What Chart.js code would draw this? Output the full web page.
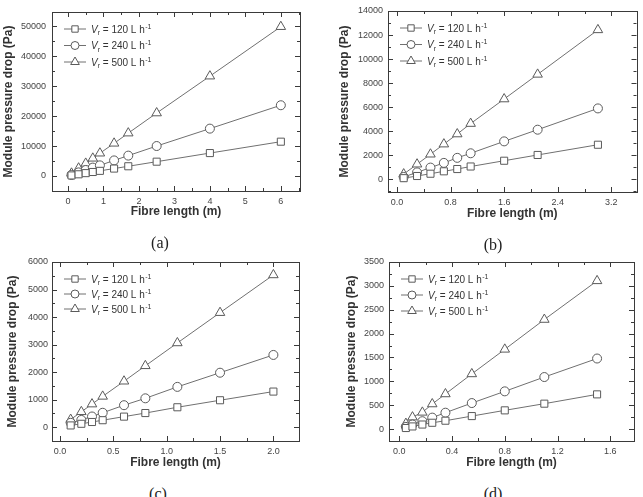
<!DOCTYPE html>
<html>
<head>
<meta charset="utf-8">
<script src="https://cdn.jsdelivr.net/npm/chart.js@4.4.1/dist/chart.umd.min.js"></script>
<style>
  html, body { margin: 0; padding: 0; background: #fff; }
  body { width: 643px; height: 497px; position: relative; overflow: hidden; }
  .panel { position: absolute; }
  .cap {
    position: absolute; width: 40px; margin-left: -20px; text-align: center;
    font: 16px "Liberation Serif", "Times New Roman", serif; color: #222; line-height: 16px;
  }
</style>
</head>
<body>
<div class="panel" style="left:0;top:0;width:320px;height:228px"><canvas id="cA" width="320" height="228"></canvas></div>
<div class="panel" style="left:320px;top:0;width:323px;height:228px"><canvas id="cB" width="323" height="228"></canvas></div>
<div class="panel" style="left:0;top:248px;width:320px;height:228px"><canvas id="cC" width="320" height="228"></canvas></div>
<div class="panel" style="left:320px;top:248px;width:323px;height:228px"><canvas id="cD" width="323" height="228"></canvas></div>
<div class="cap" style="left:160px;top:235px">(a)</div>
<div class="cap" style="left:493px;top:237px">(b)</div>
<div class="cap" style="left:158px;top:486px">(c)</div>
<div class="cap" style="left:493px;top:486px">(d)</div>

<script>
// ===============================
// DATOS
// ===============================
const caudales = ["120", "240", "500"];   // V_r en L h-1

// (a)
const xA = [0.1, 0.3, 0.5, 0.7, 0.9, 1.3, 1.7, 2.5, 4, 6];
const q120A = [190, 570, 960, 1340, 1720, 2480, 3250, 4780, 7650, 11450];
const q240A = [350, 1200, 2000, 2800, 3550, 5200, 6800, 10000, 15800, 23600];
const q500A = [900, 2600, 4200, 5900, 7600, 10900, 14300, 21000, 33300, 49800];
const xTicksA = [0, 1, 2, 3, 4, 5, 6];
const yTicksA = [0, 10000, 20000, 30000, 40000, 50000];

// (b)
const xB = [0.1, 0.3, 0.5, 0.7, 0.9, 1.1, 1.6, 2.1, 3.0];
const q120B = [100, 280, 470, 670, 860, 1070, 1550, 2030, 2880];
const q240B = [200, 580, 980, 1370, 1790, 2170, 3160, 4130, 5900];
const q500B = [440, 1260, 2090, 2930, 3770, 4640, 6680, 8730, 12430];
const xTicksB = [0.0, 0.8, 1.6, 2.4, 3.2];
const yTicksB = [0, 2000, 4000, 6000, 8000, 10000, 12000, 14000];

// (c)
const xC = [0.1, 0.2, 0.3, 0.4, 0.6, 0.8, 1.1, 1.5, 2.0];
const q120C = [65, 125, 190, 255, 385, 515, 725, 980, 1295];
const q240C = [160, 265, 390, 525, 800, 1050, 1465, 1980, 2625];
const q500C = [280, 560, 840, 1120, 1670, 2230, 3060, 4160, 5530];
const xTicksC = [0.0, 0.5, 1.0, 1.5, 2.0];
const yTicksC = [0, 1000, 2000, 3000, 4000, 5000, 6000];

// (d)
const xD = [0.05, 0.1, 0.175, 0.25, 0.35, 0.55, 0.8, 1.1, 1.5];
const q120D = [22, 55, 95, 132, 175, 272, 392, 532, 727];
const q240D = [45, 95, 165, 240, 343, 545, 790, 1090, 1478];
const q500D = [115, 250, 350, 525, 735, 1155, 1670, 2295, 3105];
const xTicksD = [0.0, 0.4, 0.8, 1.2, 1.6];
const yTicksD = [0, 500, 1000, 1500, 2000, 2500, 3000, 3500];


// ===============================
// ESTILO
// ===============================
const FONT = "'Liberation Sans', Arial, sans-serif";
const estilos = [
  { pointStyle: "rect", radius: 5 },
  { pointStyle: "circle", radius: 4.5 },
  { pointStyle: "triangle", radius: 5.5 }
];

// marco + ticks hacia dentro (estilo Origin)
const marcoTicks = {
  id: "marcoTicks",
  afterDraw(chart) {
    const { ctx, chartArea: a } = chart;
    ctx.save();
    ctx.strokeStyle = "#3a3a3a";
    ctx.lineWidth = 1;
    ctx.strokeRect(Math.round(a.left) + 0.5, Math.round(a.top) + 0.5,
      Math.round(a.right - a.left), Math.round(a.bottom - a.top));

    ["x", "y"].forEach(id => {
      const s = chart.scales[id];
      const mayores = s.ticks.map(t => t.value);
      const paso = mayores[1] - mayores[0];
      const todos = [];
      for (let v = mayores[0] - paso; v <= s.max + 1e-9; v += paso / 2) {
        if (v >= s.min - 1e-9) todos.push(v);
      }
      todos.forEach(v => {
        const esMayor = mayores.some(m => Math.abs(m - v) < paso * 1e-6);
        const len = esMayor ? 5 : 3;
        const p = Math.round(s.getPixelForValue(v)) + 0.5;
        ctx.beginPath();
        if (id === "x") {
          ctx.moveTo(p, a.bottom); ctx.lineTo(p, a.bottom - len);
          ctx.moveTo(p, a.top); ctx.lineTo(p, a.top + len);
        } else {
          ctx.moveTo(a.left, p); ctx.lineTo(a.left + len, p);
          ctx.moveTo(a.right, p); ctx.lineTo(a.right - len, p);
        }
        ctx.stroke();
      });
    });
    ctx.restore();
  }
};

// leyenda dentro del área: —□— Vr = 120 L h-1
const leyenda = {
  id: "leyenda",
  afterDraw(chart, args, opts) {
    const { ctx, chartArea: a } = chart;
    ctx.save();
    chart.data.datasets.forEach((ds, i) => {
      const y = a.top + opts.top + i * opts.gap;
      const x0 = a.left + 12, x1 = a.left + 34;
      ctx.strokeStyle = "#707070";
      ctx.lineWidth = 1;
      ctx.beginPath();
      ctx.moveTo(x0, y); ctx.lineTo(x1, y);
      ctx.stroke();
      ctx.fillStyle = "#fff";
      ctx.strokeStyle = "#5a5a5a";
      Chart.helpers.drawPoint(ctx, {
        pointStyle: ds.pointStyle, radius: ds.pointRadius - 0.5, rotation: 0, borderWidth: 1
      }, (x0 + x1) / 2, y);

      let x = a.left + 39;
      const base = y + 3.5;
      ctx.fillStyle = "#333";
      ctx.textBaseline = "alphabetic";
      ctx.font = "italic 10px " + FONT;
      ctx.fillText("V", x, base); x += ctx.measureText("V").width;
      ctx.font = "7px " + FONT;
      ctx.fillText("r", x, base + 2.5); x += ctx.measureText("r").width;
      ctx.font = "10px " + FONT;
      const txt = " = " + caudales[i] + " L h";
      ctx.fillText(txt, x, base); x += ctx.measureText(txt).width;
      ctx.font = "7px " + FONT;
      ctx.fillText("-1", x + 0.5, base - 4);
    });
    ctx.restore();
  }
};


// ===============================
// CONSTRUCCIÓN DE CADA PANEL
// ===============================
function crearPanel(id, p) {
  const series = [p.q120, p.q240, p.q500];
  return new Chart(document.getElementById(id), {
    type: "scatter",
    data: {
      datasets: series.map((ys, i) => ({
        label: caudales[i],
        data: p.x.map((xv, j) => ({ x: xv, y: ys[j] })),
        showLine: true,
        tension: 0,
        borderColor: "#707070",
        borderWidth: 1,
        pointStyle: estilos[i].pointStyle,
        pointRadius: estilos[i].radius,
        pointHoverRadius: estilos[i].radius,
        pointBackgroundColor: "#fff",
        pointBorderColor: "#5a5a5a",
        pointBorderWidth: 1
      }))
    },
    options: {
      responsive: false,
      animation: false,
      events: [],
      clip: false,
      layout: { padding: { left: 0, top: p.top, right: p.right, bottom: 0 } },
      scales: {
        x: {
          type: "linear",
          min: p.xMin, max: p.xMax,
          afterFit: s => { s.height = p.xH; },
          afterBuildTicks: s => { s.ticks = p.xTicks.map(v => ({ value: v })); },
          grid: { display: false, drawTicks: false },
          border: { display: false },
          ticks: {
            color: "#444", font: { family: FONT, size: 9 }, padding: 5,
            maxRotation: 0, autoSkip: false,
            callback: v => v.toFixed(p.xDec)
          },
          title: {
            display: true, text: "Fibre length (m)", color: "#333",
            font: { family: FONT, size: 12, weight: "bold" },
            padding: { top: 0, bottom: p.xTitlePad }
          }
        },
        y: {
          type: "linear",
          min: p.yMin, max: p.yMax,
          afterFit: s => { s.width = p.yW; },
          afterBuildTicks: s => { s.ticks = p.yTicks.map(v => ({ value: v })); },
          grid: { display: false, drawTicks: false },
          border: { display: false },
          ticks: {
            color: "#444", font: { family: FONT, size: 9 }, padding: p.yLabPad,
            autoSkip: false,
            callback: v => String(v)
          },
          title: {
            display: true, text: "Module pressure drop (Pa)", color: "#333",
            font: { family: FONT, size: 12, weight: "bold" },
            padding: { top: p.yTitlePad, bottom: 0 }
          }
        }
      },
      plugins: {
        legend: { display: false },
        tooltip: { enabled: false },
        leyenda: { top: 17, gap: p.gap }
      }
    },
    plugins: [marcoTicks, leyenda]
  });
}

crearPanel("cA", {
  x: xA, q120: q120A, q240: q240A, q500: q500A, xTicks: xTicksA, yTicks: yTicksA,
  xMin: -0.45, xMax: 6.54, yMin: -5000, yMax: 54700, xDec: 0,
  top: 12, right: 20, yW: 52, xH: 37, xTitlePad: 8.8, yTitlePad: 1, yLabPad: 6, gap: 16.5
});

crearPanel("cB", {
  x: xB, q120: q120B, q240: q240B, q500: q500B, xTicks: xTicksB, yTicks: yTicksB,
  xMin: -0.134, xMax: 3.576, yMin: -1050, yMax: 14000, xDec: 1,
  top: 11, right: 6, yW: 68, xH: 36, xTitlePad: 6.8, yTitlePad: 17.8, yLabPad: 5, gap: 16.5
});

crearPanel("cC", {
  x: xC, q120: q120C, q240: q240C, q500: q500C, xTicks: xTicksC, yTicks: yTicksC,
  xMin: -0.075, xMax: 2.24, yMin: -500, yMax: 6000, xDec: 1,
  top: 14, right: 21, yW: 52, xH: 35, xTitlePad: 5.8, yTitlePad: 5.8, yLabPad: 4, gap: 15
});

crearPanel("cD", {
  x: xD, q120: q120D, q240: q240D, q500: q500D, xTicks: xTicksD, yTicks: yTicksD,
  xMin: -0.078, xMax: 1.78, yMin: -250, yMax: 3500, xDec: 1,
  top: 14, right: 9, yW: 69, xH: 35, xTitlePad: 5.8, yTitlePad: 24.8, yLabPad: 5, gap: 16
});
</script>
</body>
</html>
